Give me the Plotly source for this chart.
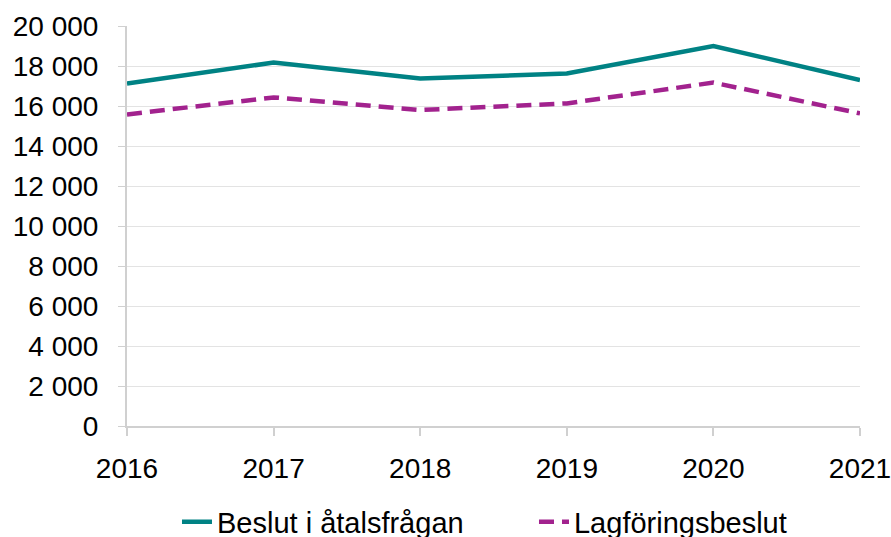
import plotly.graph_objects as go

years = [2016, 2017, 2018, 2019, 2020, 2021]
beslut_atal = [17130, 18170, 17370, 17630, 19000, 17300]
lagforing = [15580, 16430, 15800, 16130, 17170, 15630]
y_ticks = [0, 2000, 4000, 6000, 8000, 10000, 12000, 14000, 16000, 18000, 20000]

fig = go.Figure()
fig.add_trace(go.Scatter(x=years, y=beslut_atal, mode="lines", name="Beslut i åtalsfrågan",
                         line=dict(color="#008284", width=4.5)))
fig.add_trace(go.Scatter(x=years, y=lagforing, mode="lines", name="Lagföringsbeslut",
                         line=dict(color="#A2228E", width=4.5, dash="15px,8px")))

font = "Liberation Sans, Arial, sans-serif"
fig.update_layout(
    width=891, height=537,
    margin=dict(l=127, r=31, t=26, b=111, autoexpand=False),
    paper_bgcolor="white", plot_bgcolor="white",
    separators=", ",
    font=dict(family=font, size=28, color="black"),
    showlegend=True,
    legend=dict(orientation="h", x=0.0682, xanchor="left", y=-0.24, yanchor="middle",
                font=dict(size=29), itemwidth=30, entrywidth=312,
                bgcolor="rgba(0,0,0,0)"),
    xaxis=dict(range=[2016, 2021], tickvals=years, ticktext=[str(y) for y in years],
               showgrid=False, showline=True, linecolor="#D0D0D0", linewidth=2,
               ticks="outside", ticklen=8, tickcolor="#D0D0D0", tickwidth=2,
               zeroline=False, tickfont=dict(size=28), automargin=False,
               ticklabelstandoff=8, ticklabeloverflow="allow"),
    yaxis=dict(range=[0, 20000], tickvals=y_ticks, tickformat=",d",
               showgrid=True, gridcolor="#E3E3E3", gridwidth=1,
               showline=True, linecolor="#D0D0D0", linewidth=2,
               ticks="outside", ticklen=7, tickcolor="#D0D0D0", tickwidth=1,
               zeroline=False, tickfont=dict(size=28), automargin=False,
               ticklabelstandoff=14),
)
fig.write_html("out.html", config={"displayModeBar": False},
               post_script="document.body.style.margin='0';document.body.style.overflow='hidden';")
